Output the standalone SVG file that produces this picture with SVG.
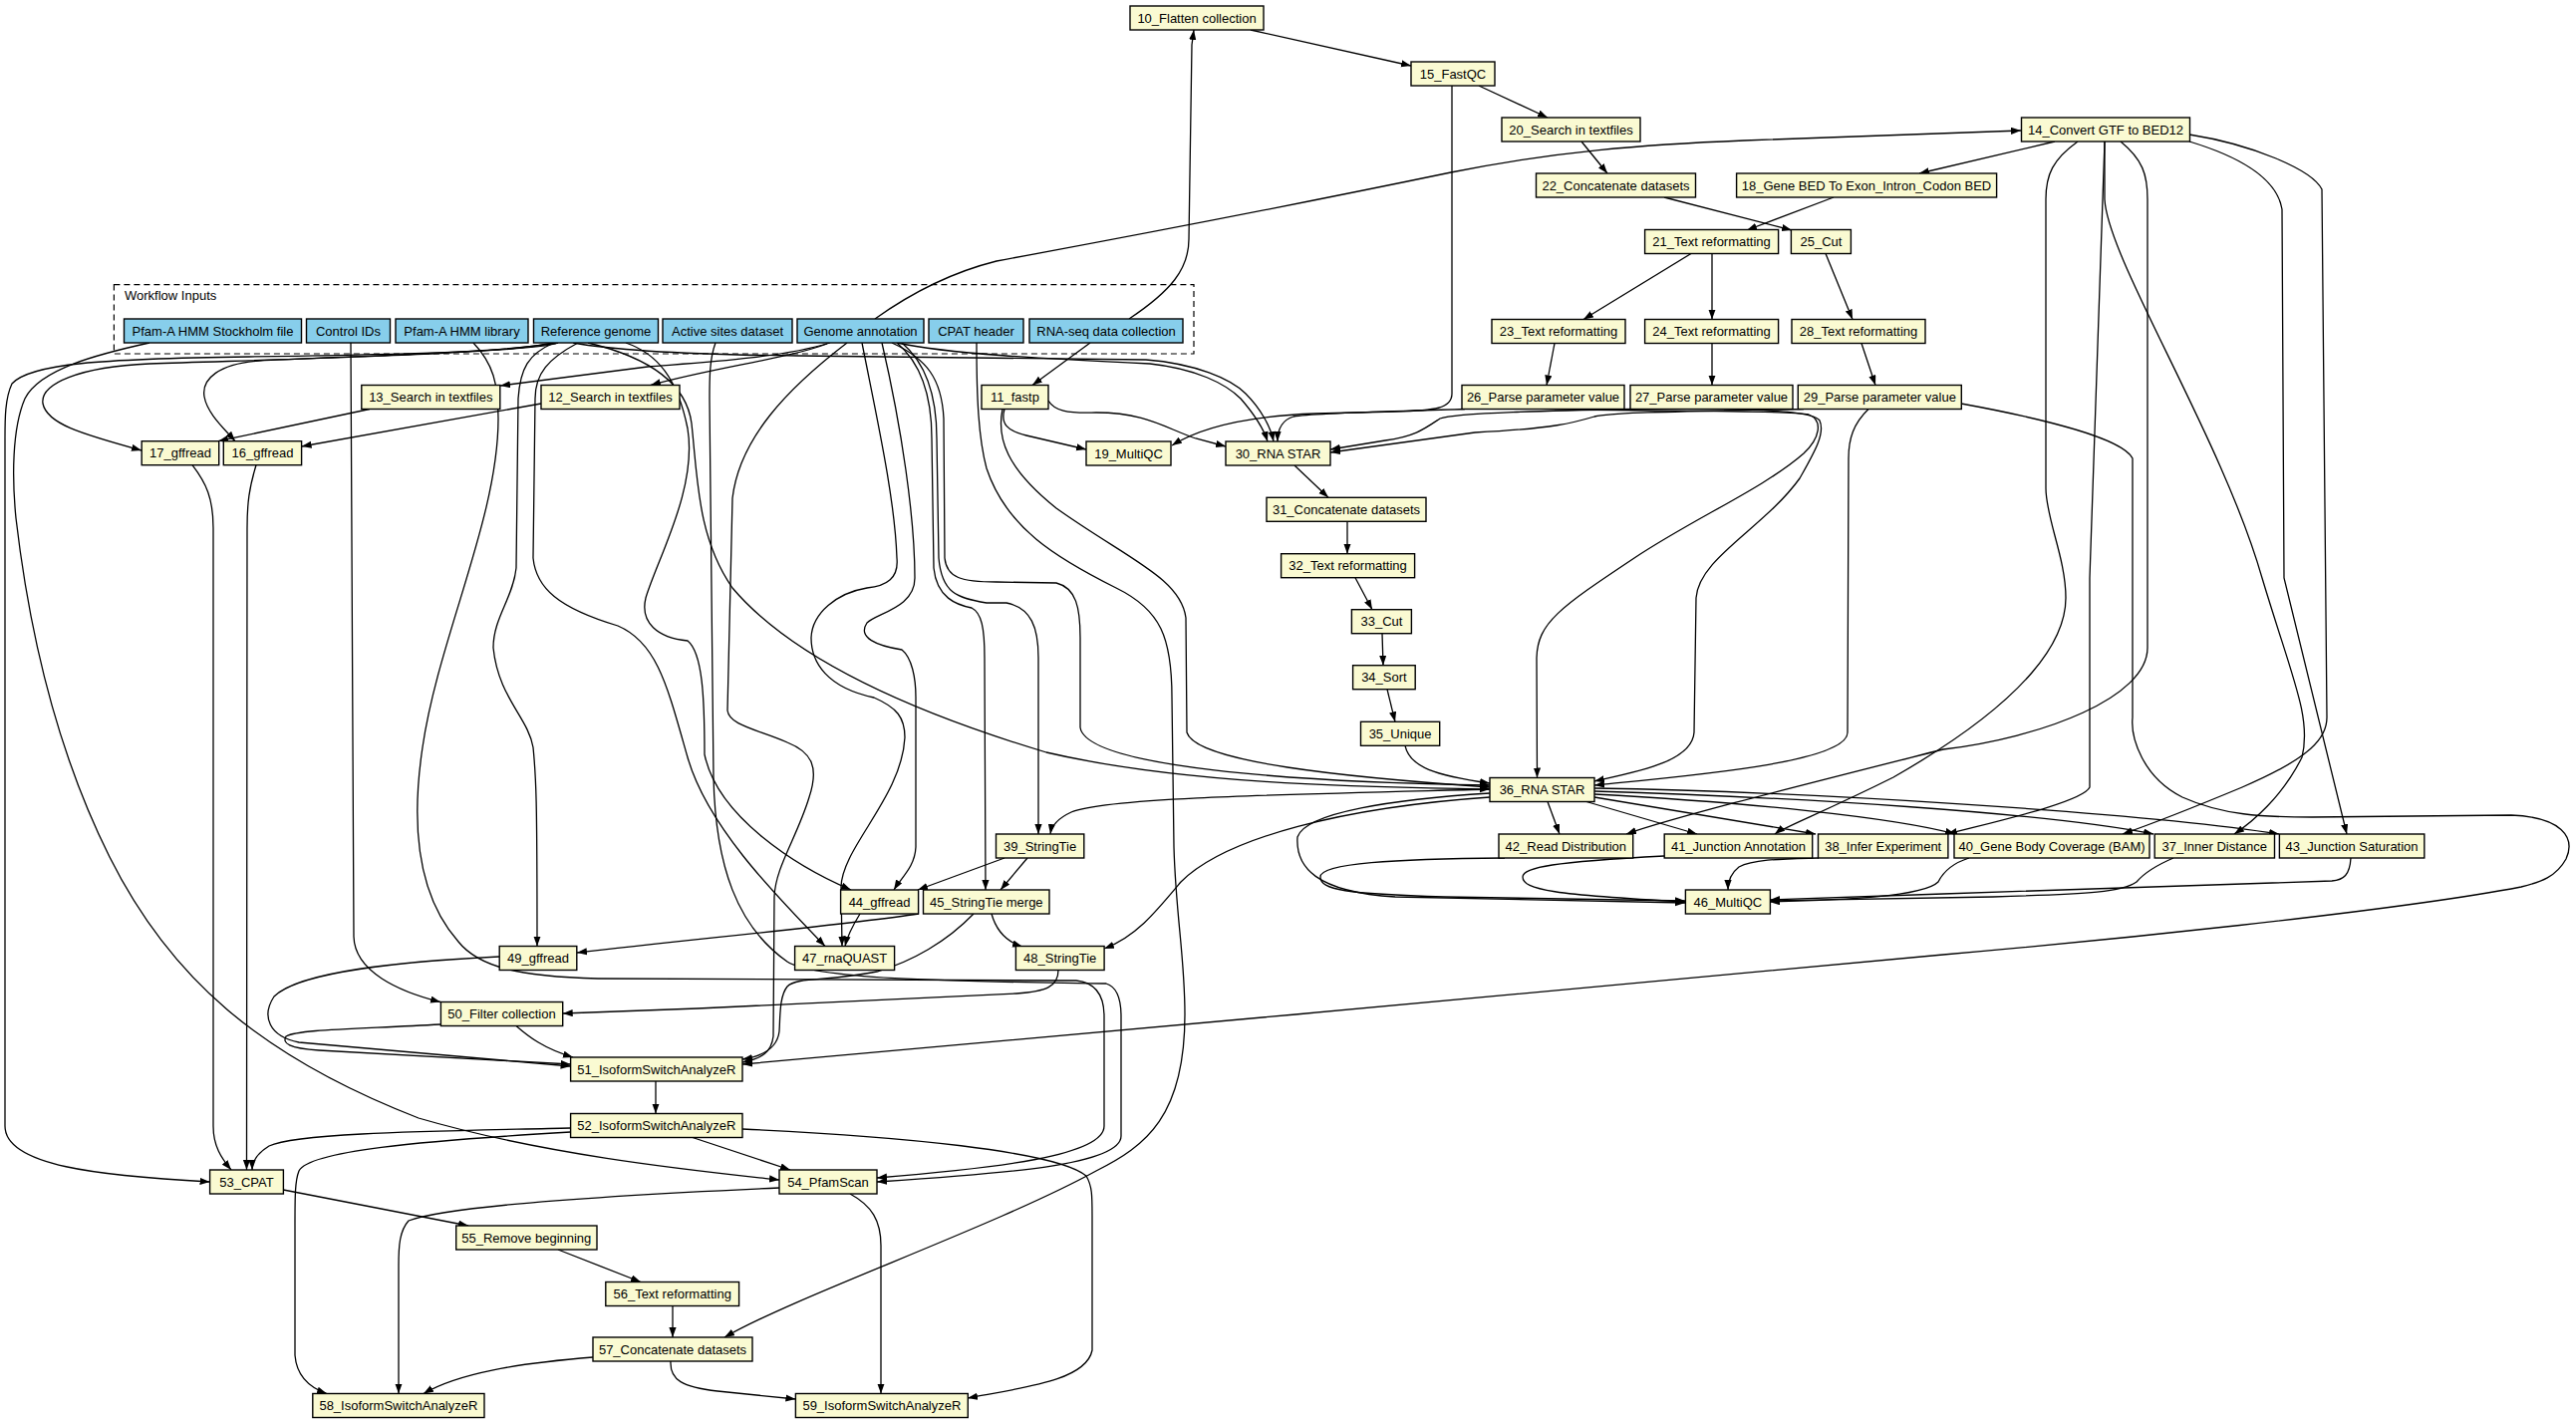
<svg xmlns="http://www.w3.org/2000/svg" width="2585" height="1429" viewBox="0 0 2585 1429">
<defs>
<marker id="a" markerWidth="11" markerHeight="8" refX="10" refY="3.6" orient="auto" markerUnits="userSpaceOnUse"><path d="M0,0 L10,3.6 L0,7.2 z" fill="#000"/></marker>
<style>
.n rect{fill:#FAFAD2;stroke:#000;stroke-width:1.4}
.i rect{fill:#87CEEB;stroke:#000;stroke-width:1.4}
text{font-family:"Liberation Sans",Arial,sans-serif;font-size:13px;fill:#000;text-anchor:middle}
.e path{fill:none;stroke:#000;stroke-width:1.3;marker-end:url(#a)}
.cl{fill:none;stroke:#000;stroke-width:1.2;stroke-dasharray:6,4}
</style>
</defs>
<rect width="2585" height="1429" fill="#fff"/>
<g id="cluster_inputs">
<rect class="cl" x="114.4" y="285.7" width="1083.6" height="69.3"/>
<text x="125" y="301" style="text-anchor:start">Workflow Inputs</text>
</g>
<g id="connectors" class="e">
<path d="M1133,320 C1175,292 1193,270 1193,240 L1196,45 L1198,30"/>
<path d="M1255,30 L1416,66"/>
<path d="M1484,86 L1553,118"/>
<path d="M1457,86 L1457,395 C1457,410 1440,412 1400,413 L1320,415 C1240,418 1200,432 1176,447"/>
<path d="M1587,142 L1613,174"/>
<path d="M878,320 C920,290 960,272 1000,262 C1200,225 1350,195 1456,173 C1560,152 1650,145 1750,141 L2028,131"/>
<path d="M2062,142 L1926,174"/>
<path d="M1670,198 L1798,231"/>
<path d="M1840,198 L1753,231"/>
<path d="M1697,254.5 L1589,320.5"/>
<path d="M1718,254.5 L1718,320.5"/>
<path d="M1832,254.5 L1859,320.5"/>
<path d="M1560,344.5 L1552,386.5"/>
<path d="M1718,344.5 L1718,386.5"/>
<path d="M1868,344.5 L1882,386.5"/>
<path d="M1094,344 L1036,386.5"/>
<path d="M1008,410.5 C1004,425 1010,432 1030,437 L1090,451"/>
<path d="M1052,402 C1058,412 1070,415 1100,414 C1150,414 1170,430 1200,440 L1230,448"/>
<path d="M1470,410.5 C1400,413 1320,414 1298,418 C1285,422 1282,432 1282,443"/>
<path d="M1640,410.5 C1560,412 1460,414 1445,420 C1430,430 1420,438 1390,442 L1335,451"/>
<path d="M1810,410.5 C1700,413 1620,413 1600,418 C1580,424 1560,430 1480,434 L1335,454"/>
<path d="M900,344 C950,355 1050,360 1154,365 C1200,370 1230,385 1245,400 C1258,415 1268,430 1272,443"/>
<path d="M575,344 C620,352 700,356 800,357 L1150,361 C1200,365 1235,380 1250,395 C1265,410 1275,428 1278,443"/>
<path d="M1299,467 L1333,499.3"/>
<path d="M1352,523.3 L1352,555.7"/>
<path d="M1360,579.7 L1377,611.7"/>
<path d="M1387,635.7 L1388,667.7"/>
<path d="M1392,691.7 L1400,724.3"/>
<path d="M1410,748.3 C1415,770 1440,778 1495,786"/>
<path d="M1560,410.5 C1650,413 1790,411 1815,416 C1830,422 1826,440 1810,455 C1770,490 1700,520 1640,560 C1565,610 1543,625 1542,660 L1542.5,780.5"/>
<path d="M1730,410.5 C1790,412 1820,414 1826,422 C1832,435 1820,455 1806,480 C1770,530 1705,560 1702,600 L1700,735 C1698,765 1640,775 1600,784"/>
<path d="M1875,410.5 C1860,425 1855,440 1855,460 L1854,735 C1854,765 1700,778 1600,788"/>
<path d="M590,344 C640,356 688,378 694,425 C700,480 700,540 735,590 C790,655 900,710 1050,755 C1200,790 1400,790 1495,792"/>
<path d="M895,344 C930,360 945,380 947,420 L948,560 C950,580 965,584 1000,584 L1060,585 C1080,590 1084,610 1084,640 L1084,730 C1090,770 1300,785 1495,788"/>
<path d="M1006,410.5 C1000,440 1010,470 1060,510 C1130,560 1185,580 1190,620 L1191,735 C1200,765 1350,780 1495,790"/>
<path d="M1553,804.5 L1565,837"/>
<path d="M1592,804.5 L1703,837"/>
<path d="M1600,800 L1822,837"/>
<path d="M1600,797 C1750,805 1900,820 1962,837"/>
<path d="M1600,794 C1800,800 2050,815 2161,837"/>
<path d="M1600,791 C1800,794 2150,815 2287,837"/>
<path d="M1495,792 C1300,797 1110,800 1075,815 C1060,822 1055,830 1054,837"/>
<path d="M1495,800 C1350,810 1230,840 1185,885 C1160,915 1140,940 1108,952"/>
<path d="M1495,796 C1400,802 1310,815 1302,840 C1300,870 1320,895 1400,900 L1691,906"/>
<path d="M2128,142 C2150,160 2155,175 2155,200 L2155,650 C2155,700 2050,740 1950,752 C1800,790 1680,820 1632,837"/>
<path d="M2085,142 C2060,160 2053,175 2053,200 L2053,490 C2053,520 2073,560 2073,600 C2073,640 2040,700 1900,780 C1830,815 1790,830 1781,837"/>
<path d="M2112,142 L2097,580 L2097,790 C2090,805 2000,825 1954,837"/>
<path d="M2112,142 L2112,200 C2115,260 2230,440 2270,580 C2300,680 2320,720 2310,760 C2290,800 2260,825 2242,837"/>
<path d="M2197,142 C2250,158 2285,180 2290,210 L2292,580 L2355,837"/>
<path d="M2197,135 C2260,145 2320,170 2330,190 L2335,720 C2335,740 2320,760 2250,790 C2190,815 2150,830 2130,837"/>
<path d="M1510,861 C1400,862 1325,866 1325,880 C1325,893 1350,897 1450,900 L1691,904"/>
<path d="M1670,859 C1560,865 1528,870 1528,880 C1528,893 1560,898 1691,905"/>
<path d="M1825,861 C1790,862 1760,862 1745,870 C1736,877 1734,885 1734,893"/>
<path d="M1976,861 C1960,866 1950,875 1945,885 C1930,900 1850,903 1776,905"/>
<path d="M2181,861 C2160,870 2150,878 2144,885 C2130,895 2100,897 2000,900 L1776,904"/>
<path d="M2359,861 C2358,878 2352,883 2340,884 L1950,897 L1776,903"/>
<path d="M1008,861 L921,893"/>
<path d="M1031,861 L1004,893"/>
<path d="M995,917 C1000,935 1010,945 1026,950"/>
<path d="M863,917 C855,930 850,940 848,949.5"/>
<path d="M922,917 C850,928 700,942 579,956"/>
<path d="M977,917 C950,945 915,965 880,975 C830,985 800,980 790,990 C782,1000 783,1020 782,1035 C780,1052 765,1060 745,1063"/>
<path d="M1062,973.5 C1062,990 1050,995 1020,997 L700,1012 L564.7,1017"/>
<path d="M905,344 C930,365 940,400 940,440 L942,560 C945,595 960,600 990,605 L1010,605 C1035,610 1042,630 1042,660 L1042,837"/>
<path d="M900,344 C925,365 935,400 935,440 L937,570 C940,600 960,607 975,610 C985,615 988,630 988,660 L989,893"/>
<path d="M885,344 C905,430 918,520 918,580 C918,610 880,615 870,625 C860,640 880,648 905,652 C915,660 919,680 919,700 L919,850 C918,870 905,880 897,893"/>
<path d="M865,344 C880,420 898,500 900,560 C902,580 890,588 870,590 C840,595 815,615 814,640 C814,665 830,690 877,700 C900,710 908,720 908,740 C905,800 845,850 844,890 L845,949.5"/>
<path d="M580,344 C550,360 537,375 537,400 L535,560 C538,590 560,610 620,628 C660,645 670,690 690,760 C710,830 780,900 828,949.5"/>
<path d="M628,344 C660,355 680,380 690,430 C700,490 660,560 648,600 C642,625 660,640 690,643 C705,655 707,700 707,757 C720,820 800,870 854,893"/>
<path d="M556,344 C530,355 522,370 520,400 L518,570 C515,600 495,620 495,650 C500,700 530,720 535,750 C538,780 539,800 539,949.5"/>
<path d="M850,344 C790,390 742,440 735,500 L730,713 C732,728 760,732 790,745 C815,755 822,770 812,800 C800,840 778,870 777,900 L776,1040 C774,1056 765,1062 745,1066"/>
<path d="M150,344 C100,355 40,370 25,400 C12,430 12,480 16,520 C30,640 60,760 110,860 C170,980 260,1060 420,1122 C550,1160 700,1175 782,1184"/>
<path d="M560,344 C540,352 400,356 250,358 C100,360 30,365 12,385 C5,400 5,420 5,440 L5,1130 C5,1170 100,1180 210.6,1186"/>
<path d="M555,344 C500,356 300,360 150,365 C80,368 40,385 43,405 C47,425 80,435 142,452"/>
<path d="M560,344 C500,355 320,358 260,362 C220,365 202,380 205,398 C208,415 225,430 236,442.7"/>
<path d="M371,410.5 L219,442.7"/>
<path d="M543,405 L302.6,448"/>
<path d="M833,344 C780,360 700,364 650,368 L502,387"/>
<path d="M830,345 C790,360 720,368 653,386.5"/>
<path d="M352,344 L355,940 C356,975 400,995 442,1005.5"/>
<path d="M475,344 C495,365 500,385 500,420 C500,520 440,640 424,750 C412,830 420,900 460,945 C480,970 520,980 600,982 L1080,984 C1100,986 1108,1000 1108,1020 L1108,1130 C1108,1160 1000,1172 880,1182"/>
<path d="M718,344 C712,360 712,380 712,400 L716,780 C718,870 740,930 790,965 C820,985 1000,985 1110,987 C1120,990 1125,1000 1125,1020 L1125,1140 C1125,1170 1000,1178 880,1186"/>
<path d="M980,344 C980,400 982,440 990,470 C1010,530 1060,560 1120,590 C1165,612 1176,640 1176,700 L1178,850 C1180,920 1189,960 1189,1018 C1189,1120 1150,1150 1100,1175 C1000,1230 800,1300 727,1342"/>
<path d="M1968,405 C2050,420 2130,440 2140,460 L2140,720 C2138,740 2150,780 2190,800 C2230,818 2270,820 2320,820 L2520,818 C2570,820 2585,840 2575,862 C2565,880 2550,885 2530,890 C2400,915 2100,945 1950,958 L1300,1018 L745,1068"/>
<path d="M501,960 C400,965 300,975 275,1000 C262,1020 270,1040 300,1046 L572.6,1070"/>
<path d="M442,1028 C350,1033 300,1033 287,1040 C283,1047 290,1052 320,1054 L572.6,1068"/>
<path d="M518,1029.5 C530,1040 545,1052 575,1061"/>
<path d="M658,1085 L658,1117.5"/>
<path d="M572.6,1132 C450,1135 300,1136 270,1150 C257,1158 253,1166 253,1174"/>
<path d="M695,1141.5 L793,1174"/>
<path d="M572.6,1136 C420,1145 310,1155 300,1175 C296,1185 296,1200 296,1230 L296,1360 C298,1385 315,1394 328,1398.5"/>
<path d="M745,1133 C900,1140 1060,1155 1090,1180 C1096,1190 1096,1200 1096,1220 L1096,1355 C1090,1385 1030,1392 971,1403"/>
<path d="M284.4,1194 L470,1230"/>
<path d="M560,1254 L643,1286.5"/>
<path d="M675,1310.5 L675,1342"/>
<path d="M595,1362 C520,1368 460,1378 425,1398.5"/>
<path d="M673,1366 C672,1385 685,1392 720,1396 L798.4,1404"/>
<path d="M782,1192 C600,1200 450,1210 410,1225 C401,1235 400,1250 400,1270 L400,1398.5"/>
<path d="M853,1198 C875,1210 884,1225 884,1250 L884,1398.5"/>
<path d="M257,466.7 C250,490 248,505 248,530 L247.5,1174"/>
<path d="M193,466.7 C207,485 214,500 214,530 L214,1130 C214,1150 222,1162 232,1174"/>
</g>
<g id="in_pfam_sto" class="i"><rect x="124.5" y="320" width="178" height="24"/><text x="213.5" y="336.5">Pfam-A HMM Stockholm file</text></g>
<g id="in_ctrl" class="i"><rect x="307.5" y="320" width="84" height="24"/><text x="349.5" y="336.5">Control IDs</text></g>
<g id="in_pfam_lib" class="i"><rect x="397" y="320" width="133" height="24"/><text x="463.5" y="336.5">Pfam-A HMM library</text></g>
<g id="in_refgen" class="i"><rect x="535.5" y="320" width="125" height="24"/><text x="598" y="336.5">Reference genome</text></g>
<g id="in_active" class="i"><rect x="665" y="320" width="130" height="24"/><text x="730" y="336.5">Active sites dataset</text></g>
<g id="in_gtf" class="i"><rect x="800" y="320" width="127" height="24"/><text x="863.5" y="336.5">Genome annotation</text></g>
<g id="in_cpat" class="i"><rect x="932" y="320" width="95" height="24"/><text x="979.5" y="336.5">CPAT header</text></g>
<g id="in_rnaseq" class="i"><rect x="1033" y="320" width="154" height="24"/><text x="1110" y="336.5">RNA-seq data collection</text></g>
<g id="n10" class="n"><rect x="1134" y="6" width="134" height="24"/><text x="1201" y="22.5">10_Flatten collection</text></g>
<g id="n15" class="n"><rect x="1416" y="62" width="84" height="24"/><text x="1458" y="78.5">15_FastQC</text></g>
<g id="n20" class="n"><rect x="1507" y="118" width="139" height="24"/><text x="1576.5" y="134.5">20_Search in textfiles</text></g>
<g id="n14" class="n"><rect x="2028.5" y="118" width="169" height="24"/><text x="2113" y="134.5">14_Convert GTF to BED12</text></g>
<g id="n22" class="n"><rect x="1541.5" y="174" width="160" height="24"/><text x="1621.5" y="190.5">22_Concatenate datasets</text></g>
<g id="n18" class="n"><rect x="1742.6" y="174" width="261" height="24"/><text x="1873" y="190.5">18_Gene BED To Exon_Intron_Codon BED</text></g>
<g id="n21" class="n"><rect x="1650.6" y="230.5" width="134" height="24"/><text x="1717.6" y="247">21_Text reformatting</text></g>
<g id="n25" class="n"><rect x="1797.4" y="230.5" width="60" height="24"/><text x="1827.4" y="247">25_Cut</text></g>
<g id="n23" class="n"><rect x="1497" y="320.5" width="134" height="24"/><text x="1564" y="337">23_Text reformatting</text></g>
<g id="n24" class="n"><rect x="1650.6" y="320.5" width="134" height="24"/><text x="1717.6" y="337">24_Text reformatting</text></g>
<g id="n28" class="n"><rect x="1798" y="320.5" width="134" height="24"/><text x="1865" y="337">28_Text reformatting</text></g>
<g id="n26" class="n"><rect x="1467" y="386.5" width="163" height="24"/><text x="1548.5" y="403">26_Parse parameter value</text></g>
<g id="n27" class="n"><rect x="1636" y="386.5" width="163" height="24"/><text x="1717.5" y="403">27_Parse parameter value</text></g>
<g id="n29" class="n"><rect x="1804.3" y="386.5" width="164" height="24"/><text x="1886.3" y="403">29_Parse parameter value</text></g>
<g id="n11" class="n"><rect x="985" y="386.5" width="67" height="24"/><text x="1018.5" y="403">11_fastp</text></g>
<g id="n13" class="n"><rect x="362.8" y="386.5" width="139" height="24"/><text x="432.3" y="403">13_Search in textfiles</text></g>
<g id="n12" class="n"><rect x="543" y="386.5" width="139" height="24"/><text x="612.5" y="403">12_Search in textfiles</text></g>
<g id="n17" class="n"><rect x="142.2" y="442.7" width="77.5" height="24"/><text x="181" y="459.2">17_gffread</text></g>
<g id="n16" class="n"><rect x="224.3" y="442.7" width="78.3" height="24"/><text x="263.5" y="459.2">16_gffread</text></g>
<g id="n19" class="n"><rect x="1090" y="443" width="85" height="24"/><text x="1132.5" y="459.5">19_MultiQC</text></g>
<g id="n30" class="n"><rect x="1230" y="443" width="105" height="24"/><text x="1282.5" y="459.5">30_RNA STAR</text></g>
<g id="n31" class="n"><rect x="1271" y="499.3" width="160" height="24"/><text x="1351" y="515.8">31_Concatenate datasets</text></g>
<g id="n32" class="n"><rect x="1285.6" y="555.7" width="134" height="24"/><text x="1352.6" y="572.2">32_Text reformatting</text></g>
<g id="n33" class="n"><rect x="1356.4" y="611.7" width="60" height="24"/><text x="1386.4" y="628.2">33_Cut</text></g>
<g id="n34" class="n"><rect x="1357.6" y="667.7" width="62.6" height="24"/><text x="1388.9" y="684.2">34_Sort</text></g>
<g id="n35" class="n"><rect x="1365.5" y="724.3" width="79.2" height="24"/><text x="1405.1" y="740.8">35_Unique</text></g>
<g id="n36" class="n"><rect x="1495" y="780.5" width="105" height="24"/><text x="1547.5" y="797">36_RNA STAR</text></g>
<g id="n42" class="n"><rect x="1504" y="837" width="134.7" height="24"/><text x="1571.3" y="853.5">42_Read Distribution</text></g>
<g id="n41" class="n"><rect x="1670.2" y="837" width="148.5" height="24"/><text x="1744.5" y="853.5">41_Junction Annotation</text></g>
<g id="n38" class="n"><rect x="1824.5" y="837" width="130.4" height="24"/><text x="1889.7" y="853.5">38_Infer Experiment</text></g>
<g id="n40" class="n"><rect x="1961" y="837" width="196" height="24"/><text x="2059" y="853.5">40_Gene Body Coverage (BAM)</text></g>
<g id="n37" class="n"><rect x="2162.2" y="837" width="120.3" height="24"/><text x="2222.3" y="853.5">37_Inner Distance</text></g>
<g id="n43" class="n"><rect x="2287.4" y="837" width="145.4" height="24"/><text x="2360.1" y="853.5">43_Junction Saturation</text></g>
<g id="n39" class="n"><rect x="999.5" y="837" width="88.3" height="24"/><text x="1043.6" y="853.5">39_StringTie</text></g>
<g id="n46" class="n"><rect x="1691.4" y="893" width="85" height="24"/><text x="1733.9" y="909.5">46_MultiQC</text></g>
<g id="n44" class="n"><rect x="843.6" y="893" width="78" height="24"/><text x="882.6" y="909.5">44_gffread</text></g>
<g id="n45" class="n"><rect x="926.5" y="893" width="126.5" height="24"/><text x="989.75" y="909.5">45_StringTie merge</text></g>
<g id="n47" class="n"><rect x="797.6" y="949.5" width="100" height="24"/><text x="847.6" y="966">47_rnaQUAST</text></g>
<g id="n48" class="n"><rect x="1019.4" y="949.5" width="88.7" height="24"/><text x="1063.7" y="966">48_StringTie</text></g>
<g id="n49" class="n"><rect x="501.2" y="949.5" width="77.6" height="24"/><text x="540" y="966">49_gffread</text></g>
<g id="n50" class="n"><rect x="442.4" y="1005.5" width="122.3" height="24"/><text x="503.5" y="1022">50_Filter collection</text></g>
<g id="n51" class="n"><rect x="572.6" y="1061" width="172.4" height="24"/><text x="658.8" y="1077.5">51_IsoformSwitchAnalyzeR</text></g>
<g id="n52" class="n"><rect x="572.6" y="1117.5" width="172.4" height="24"/><text x="658.8" y="1134">52_IsoformSwitchAnalyzeR</text></g>
<g id="n53" class="n"><rect x="210.6" y="1174" width="73.8" height="24"/><text x="247.5" y="1190.5">53_CPAT</text></g>
<g id="n54" class="n"><rect x="782" y="1174" width="98" height="24"/><text x="831" y="1190.5">54_PfamScan</text></g>
<g id="n55" class="n"><rect x="457.7" y="1230" width="141.3" height="24"/><text x="528.3" y="1246.5">55_Remove beginning</text></g>
<g id="n56" class="n"><rect x="607.8" y="1286.5" width="133.8" height="24"/><text x="674.7" y="1303">56_Text reformatting</text></g>
<g id="n57" class="n"><rect x="595" y="1342" width="160" height="24"/><text x="675" y="1358.5">57_Concatenate datasets</text></g>
<g id="n58" class="n"><rect x="313.8" y="1398.5" width="172.2" height="24"/><text x="399.9" y="1415">58_IsoformSwitchAnalyzeR</text></g>
<g id="n59" class="n"><rect x="798.4" y="1398.5" width="172.9" height="24"/><text x="884.9" y="1415">59_IsoformSwitchAnalyzeR</text></g>
</svg>
